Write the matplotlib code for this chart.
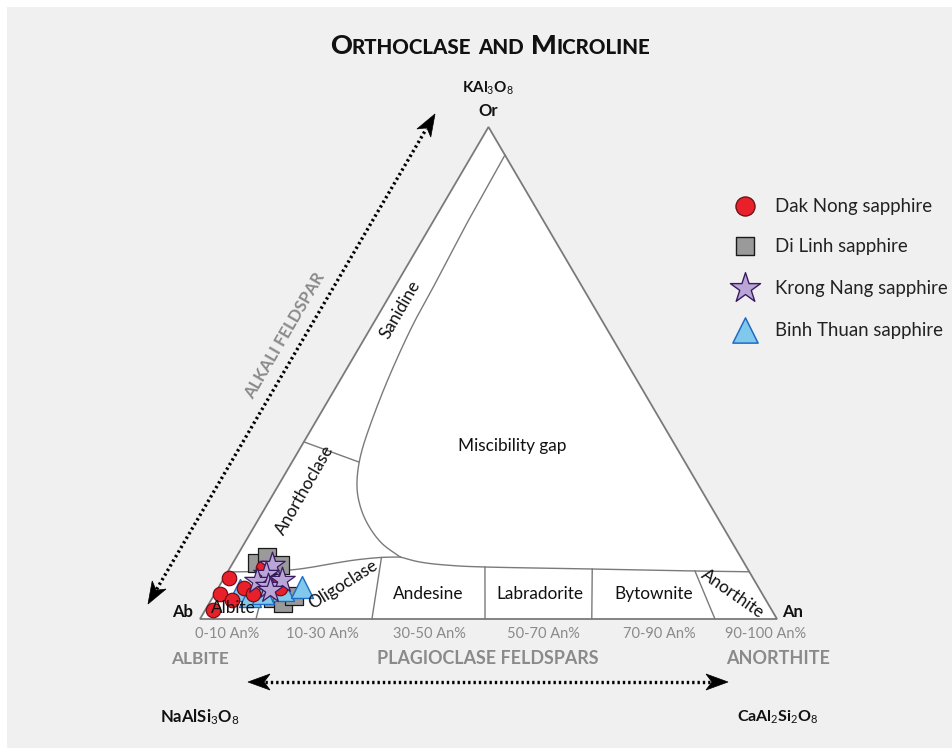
import numpy as np
import matplotlib
matplotlib.use('Agg')
import matplotlib.pyplot as plt
from matplotlib.patches import Polygon, Rectangle

plt.rcParams['font.family'] = ['Lato', 'DejaVu Sans']
plt.rcParams['mathtext.fontset'] = 'custom'
plt.rcParams['mathtext.rm'] = 'Lato'
plt.rcParams['mathtext.it'] = 'Lato:italic'
plt.rcParams['mathtext.bf'] = 'Lato:bold'

# ---------------- data (Or %, An %; Ab = 100 - Or - An) ----------------
dak_or = [8.3, 5.1, 3.9, 1.8, 6.3, 5.1, 10.4, 7.5, 6.3]
dak_an = [0.8, 1.0, 3.6, 1.4, 4.5, 6.6, 5.7, 8.7, 10.7]
dil_or = [11.4, 12.6, 11.0, 4.3, 3.3, 4.7]
dil_an = [4.2, 5.3, 8.4, 10.5, 12.7, 14.0]
kro_or = [11.0, 9.1, 7.7, 6.7, 7.9, 5.9]
kro_an = [7.0, 6.9, 6.0, 8.4, 10.3, 9.2]
bin_or = [5.9, 4.7, 5.3, 5.9, 6.5]
bin_an = [4.0, 6.3, 8.3, 11.4, 14.4]

series_labels = ['Dak Nong sapphire', 'Di Linh sapphire', 'Krong Nang sapphire', 'Binh Thuan sapphire']
range_labels = ['0-10 An%', '10-30 An%', '30-50 An%', '50-70 An%', '70-90 An%', '90-100 An%']
field_labels = ['Andesine', 'Labradorite', 'Bytownite']

# ---------------- diagram template boundaries (Or %, An %) ----------------
misc_or = [94.3, 81.5, 69.9, 59.8, 49.6, 40.4, 33.3, 27.6, 23.2, 19.1, 15.4, 12.6]
misc_an = [5.7, 6.0, 6.6, 7.0, 8.1, 9.6, 11.2, 13.4, 16.1, 19.6, 23.8, 28.4]
plag_or = [12.6, 11.59, 10.98, 10.57, 10.16, 9.76, 9.6]
plag_an = [28.4, 32.3, 37.0, 44.1, 62.9, 80.9, 90.4]
anc_or = [9.55, 9.65, 9.96, 10.47, 11.18, 11.99, 12.5, 12.6]
anc_an = [0.0, 5.57, 10.62, 13.83, 16.94, 20.86, 24.95, 28.4]
san_or = [36.0, 31.9]
san_an = [0.0, 11.6]
sep_top = [(9.7, 7.0), (12.5, 25.2), (10.57, 44.1), (10.16, 62.9), (9.76, 80.9)]
sep_bot = [(0, 9.7), (0, 29.8), (0, 49.4), (0, 67.9), (0, 89.25)]


def tern(or_, an):
    or_ = np.asarray(or_, float)
    an = np.asarray(an, float)
    return (an + or_ / 2) / 100.0, or_ / 100.0


def catmull(xs, ys, n=20):
    P = np.column_stack([xs, ys])
    P = np.vstack([2 * P[0] - P[1], P, 2 * P[-1] - P[-2]])
    out = []
    t = np.linspace(0, 1, n, endpoint=False)[:, None]
    for i in range(1, len(P) - 2):
        p0, p1, p2, p3 = P[i - 1], P[i], P[i + 1], P[i + 2]
        out.append(0.5 * ((2 * p1) + (-p0 + p2) * t + (2 * p0 - 5 * p1 + 4 * p2 - p3) * t ** 2
                          + (-p0 + 3 * p1 - 3 * p2 + p3) * t ** 3))
    out.append(P[-2][None, :])
    pts = np.vstack(out)
    return pts[:, 0], pts[:, 1]


W, H = 953, 748
fig = plt.figure(figsize=(W / 100, H / 100), dpi=100)
fig.patch.set_facecolor('white')

# background panel
bg = fig.add_axes([0, 0, 1, 1], zorder=0)
bg.set_xlim(0, W); bg.set_ylim(H, 0); bg.axis('off')
bg.add_patch(Rectangle((7, 7), W - 7, H - 7, facecolor='#f0f0f0', edgecolor='none'))

# ternary axes
AbX, AnX, TopY, BaseY = 200, 777, 127, 619
sx = AnX - AbX
sy = BaseY - TopY
ax = fig.add_axes([0, 0, 1, 1], zorder=1)
ax.set_xlim(-AbX / sx, (W - AbX) / sx)
ax.set_ylim(-(H - BaseY) / sy, BaseY / sy)
ax.axis('off')
ax.patch.set_alpha(0)

lc = '#7a7a7a'
ax.add_patch(Polygon([[0, 0], [1, 0], [0.5, 1]], closed=True, facecolor='white',
                     edgecolor=lc, lw=1.3, zorder=1))
for o_, a_ in ((misc_or, misc_an), (plag_or, plag_an), (anc_or, anc_an)):
    x, y = tern(o_, a_)
    cx, cy = catmull(x, y)
    ax.plot(cx, cy, color=lc, lw=1.0, zorder=2)
x, y = tern(san_or, san_an)
ax.plot(x, y, color=lc, lw=1.0, zorder=2)
for (o1, a1), (o2, a2) in zip(sep_top, sep_bot):
    x, y = tern([o1, o2], [a1, a2])
    ax.plot(x, y, color=lc, lw=1.0, zorder=2)

# data markers
x, y = tern(dil_or, dil_an)
ax.scatter(x, y, s=150, marker='s', facecolor='#9a9a9a', edgecolor='#1a1a1a', lw=0.9, zorder=5)
x, y = tern(bin_or, bin_an)
ax.scatter(x, y, s=250, marker='^', facecolor='#80c8ec', edgecolor='#1f6cc4', lw=1.0, zorder=6)
x, y = tern(dak_or, dak_an)
ax.scatter(x, y, s=110, marker='o', facecolor='#e8202a', edgecolor='#6a0a10', lw=0.8, zorder=7)
x, y = tern(kro_or, kro_an)
ax.scatter(x, y, s=370, marker='*', facecolor='#b9a6d6', edgecolor='#3a1a60', lw=0.9, zorder=8)

# overlay for text / decorations (pixel coordinates)
ov = fig.add_axes([0, 0, 1, 1], zorder=3)
ov.set_xlim(0, W); ov.set_ylim(H, 0); ov.axis('off'); ov.patch.set_alpha(0)

# title in small caps
BIG, SMALL = 19.5, 14.8
pieces = [('O', BIG), ('RTHOCLASE', SMALL), (' ', 0), ('AND', SMALL), (' ', 0), ('M', BIG), ('ICROLINE', SMALL)]
txts = []
for s, fs in pieces:
    if s == ' ':
        txts.append(None)
        continue
    txts.append(ov.text(0, 54, s, fontsize=fs, fontweight='black', color='#111111', ha='left', va='baseline'))
fig.canvas.draw()
r = fig.canvas.get_renderer()
widths = []
for t in txts:
    widths.append(7.0 if t is None else t.get_window_extent(r).width)
total = sum(widths)
xpos = 490 - total / 2
for t, w in zip(txts, widths):
    if t is not None:
        t.set_x(xpos)
    xpos += w

dark = '#111111'
gray = '#8a8a8a'
ov.text(488, 88, r'KAl$_3$O$_8$', fontsize=11, color=dark, ha='center', va='center', fontweight='bold')
ov.text(488, 111, 'Or', fontsize=12, color=dark, ha='center', va='center', fontweight='bold')
ov.text(183, 612, 'Ab', fontsize=12, color=dark, ha='center', va='center', fontweight='bold')
ov.text(793, 612, 'An', fontsize=12, color=dark, ha='center', va='center', fontweight='bold')

fl = dict(fontsize=12.4, color=dark, ha='center', va='center')
ov.text(400, 310, 'Sanidine', rotation=60, **fl)
ov.text(305, 490, 'Anorthoclase', rotation=60, **fl)
ov.text(512, 446, 'Miscibility gap', **fl)
ov.text(343, 585, 'Oligoclase', rotation=32, **fl)
for lab, px in zip(field_labels, [428, 540, 654]):
    ov.text(px, 594, lab, **fl)
ov.text(733, 594, 'Anorthite', rotation=-35, **fl)
ov.text(233, 608, 'Albite', **fl)

for lab, px in zip(range_labels, [227, 322, 429, 543, 659, 766]):
    ov.text(px, 634, lab, fontsize=10.5, color=gray, ha='center', va='center')
ov.text(200, 659, 'ALBITE', fontsize=12.4, color=gray, ha='center', va='center', fontweight='bold')
ov.text(488, 659, 'PLAGIOCLASE FELDSPARS', fontsize=12.9, color=gray, ha='center', va='center', fontweight='bold')
ov.text(778, 659, 'ANORTHITE', fontsize=13, color=gray, ha='center', va='center', fontweight='bold')
ov.text(200, 717, r'NaAlSi$_3$O$_8$', fontsize=12, color=dark, ha='center', va='center', fontweight='bold')
ov.text(778, 717, r'CaAl$_2$Si$_2$O$_8$', fontsize=11.5, color=dark, ha='center', va='center', fontweight='bold')
ov.text(285, 336, 'ALKALI FELDSPAR', fontsize=12, color=gray, ha='center', va='center',
        fontweight='bold', rotation=59.7)


def dotted_arrow(p0, p1):
    p0 = np.array(p0, float); p1 = np.array(p1, float)
    d = p1 - p0
    L = np.hypot(*d)
    u = d / L
    n = np.array([-u[1], u[0]])
    hl, hw, notch = 22, 8, 6
    a = p0 + u * (hl - notch + 1)
    b = p1 - u * (hl - notch + 1)
    ov.plot([a[0], b[0]], [a[1], b[1]], color='black', lw=2.4, ls=(0, (0.7, 0.9)),
            dash_capstyle='butt', solid_capstyle='butt')
    for tip, dirv in ((p1, u), (p0, -u)):
        back = tip - dirv * hl
        poly = [tip, back + n * hw, tip - dirv * (hl - notch), back - n * hw]
        ov.add_patch(Polygon(poly, closed=True, facecolor='black', edgecolor='black', lw=0.5))


dotted_arrow((148, 604), (435, 114))
dotted_arrow((248, 682), (728, 682))

# legend (manual)
ly = [206, 246, 288, 330]
ov.scatter([745], [ly[0]], s=190, marker='o', facecolor='#e8202a', edgecolor='#6a0a10', lw=0.9, zorder=5)
ov.scatter([745], [ly[1]], s=185, marker='s', facecolor='#9a9a9a', edgecolor='#1a1a1a', lw=1.0, zorder=5)
ov.scatter([745], [ly[2]], s=520, marker='*', facecolor='#b9a6d6', edgecolor='#3a1a60', lw=1.0, zorder=5)
ov.scatter([745], [ly[3]], s=330, marker='^', facecolor='#80c8ec', edgecolor='#1f6cc4', lw=1.1, zorder=5)
for lab, yy in zip(series_labels, ly):
    ov.text(775, yy, lab, fontsize=13.4, color='#222222', ha='left', va='center')

fig.savefig('out.png', dpi=100, facecolor=fig.get_facecolor())
